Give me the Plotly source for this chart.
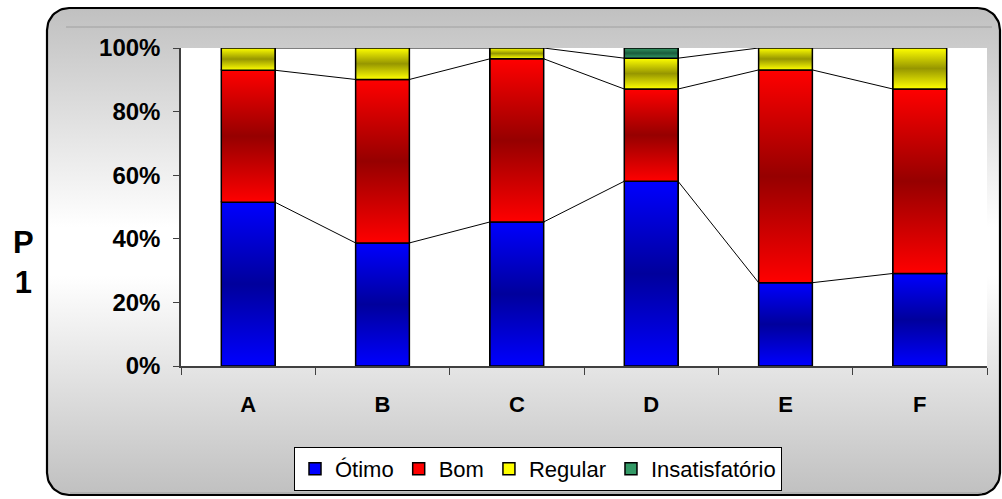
import numpy as np
import plotly.graph_objects as go

# ---------------- data ----------------
categories = ["A", "B", "C", "D", "E", "F"]
otimo = [51.5, 38.7, 45.3, 58.1, 26.2, 29.1]
bom = [41.5, 51.4, 51.3, 29.0, 66.9, 58.0]
regular = [7.0, 9.9, 3.4, 9.7, 6.9, 12.9]
insatisfatorio = [0.0, 0.0, 0.0, 3.2, 0.0, 0.0]
series_names = ["Ótimo", "Bom", "Regular", "Insatisfatório"]
y_ticks = [0, 20, 40, 60, 80, 100]
y_tick_labels = ["0%", "20%", "40%", "60%", "80%", "100%"]
axis_title = "P<br>1"

# ---------------- styles ----------------
edge_colors = ["#0000ff", "#ff0000", "#ffff00", "#339966"]
center_colors = ["#00009c", "#960000", "#969600", "#1a5c3c"]
BAR_W = 0.4
FONT = "Liberation Sans, Arial, sans-serif"
W, H = 1002, 499
PX0, PX1, PY0, PY1 = 181, 987, 48, 366  # plot area in pixels (from top-left)

series_vals = [otimo, bom, regular, insatisfatorio]
n = len(categories)

fig = go.Figure()

# ---------------- chart frame (rounded rect with vertical gradient) ----------------
fx0, fx1 = 47, 1000
fyb, fyt = H - 495, H - 8
r = 22
def arc(cx, cy, a0, a1):
    t = np.linspace(a0, a1, 16)
    return list(cx + r * np.cos(t)), list(cy + r * np.sin(t))
xs, ys = [], []
for cx, cy, a0, a1 in [(fx1 - r, fyt - r, np.pi / 2, 0),
                       (fx1 - r, fyb + r, 0, -np.pi / 2),
                       (fx0 + r, fyb + r, -np.pi / 2, -np.pi),
                       (fx0 + r, fyt - r, np.pi, np.pi / 2)]:
    ax_, ay_ = arc(cx, cy, a0, a1)
    xs += ax_
    ys += ay_
xs.append(xs[0])
ys.append(ys[0])
fig.add_trace(go.Scatter(
    x=xs, y=ys, mode="lines", fill="toself",
    fillgradient=dict(type="vertical", start=fyb, stop=fyt,
                      colorscale=[[0, "#c0c0c0"], [0.45, "#ffffff"], [0.55, "#ffffff"], [1, "#c0c0c0"]]),
    line=dict(color="black", width=2.2), hoverinfo="skip", showlegend=False,
    xaxis="x", yaxis="y"))
# inner shadow lines of the frame
fig.add_trace(go.Scatter(
    x=[66, 992, None, 70, 982], y=[H - 27, H - 27, None, H - 493, H - 493], mode="lines",
    line=dict(color="#a0a0a0", width=1), hoverinfo="skip", showlegend=False,
    xaxis="x", yaxis="y"))

# ---------------- stacked bars ----------------
for name, vals, col in zip(series_names, series_vals, edge_colors):
    fig.add_trace(go.Bar(
        x=categories, y=vals, name=name, width=BAR_W,
        marker=dict(color=col, line=dict(color="black", width=1.5)),
        xaxis="x2", yaxis="y2"))

# cumulative levels
cum = np.cumsum(np.array(series_vals), axis=0)
bases = np.vstack([np.zeros(n), cum[:-1]])

# ---------------- series lines ----------------
for k in range(3):
    lx, ly = [], []
    for i in range(n - 1):
        lx += [i + BAR_W / 2, i + 1 - BAR_W / 2, None]
        ly += [cum[k][i], cum[k][i + 1], None]
    fig.add_trace(go.Scatter(x=lx, y=ly, mode="lines", line=dict(color="black", width=1),
                             hoverinfo="skip", showlegend=False, xaxis="x3", yaxis="y2"))

# ---------------- gradient overlays on the bar segments ----------------
for k, vals in enumerate(series_vals):
    for i in range(n):
        if vals[i] <= 0:
            continue
        b, t = bases[k][i], cum[k][i]
        fig.add_trace(go.Scatter(
            x=[i - BAR_W / 2, i + BAR_W / 2, i + BAR_W / 2, i - BAR_W / 2, i - BAR_W / 2],
            y=[b, b, t, t, b], mode="lines", fill="toself",
            fillgradient=dict(type="vertical",
                              colorscale=[[0, edge_colors[k]], [0.5, center_colors[k]], [1, edge_colors[k]]]),
            line=dict(color="black", width=1.5), hoverinfo="skip", showlegend=False,
            xaxis="x3", yaxis="y2"))

# plot-area border (top/right gray)
fig.add_shape(type="rect", xref="x2 domain", yref="y2 domain", x0=0, x1=1, y0=0, y1=1,
              line=dict(color="#808080", width=1), layer="below")

fig.add_annotation(text=axis_title, xref="paper", yref="paper", x=23 / W, y=(H - 262) / H,
                   xanchor="center", yanchor="middle", showarrow=False,
                   font=dict(family=FONT, size=31, color="black", weight="bold"))

fig.update_layout(
    template="none",
    width=W, height=H, margin=dict(l=0, r=0, t=0, b=0, pad=0, autoexpand=False),
    paper_bgcolor="white", plot_bgcolor="white", barmode="stack",
    font=dict(family=FONT, color="black"),
    xaxis=dict(domain=[0, 1], range=[0, W], visible=False),
    yaxis=dict(domain=[0, 1], range=[0, H], visible=False),
    xaxis2=dict(domain=[PX0 / W, PX1 / W], anchor="y2", type="category", range=[-0.5, n - 0.5],
                tickson="boundaries", ticks="outside", ticklen=7, tickcolor="#404040",
                showline=True, linecolor="#404040", linewidth=1.5, showgrid=False, automargin=False,
                ticklabelstandoff=18,
                tickfont=dict(family=FONT, size=22, color="black", weight="bold")),
    xaxis3=dict(overlaying="x2", anchor="y2", range=[-0.5, n - 0.5], visible=False),
    yaxis2=dict(domain=[(H - PY1) / H, (H - PY0) / H], anchor="x2", range=[0, 100],
                tickmode="array", tickvals=y_ticks, ticktext=y_tick_labels,
                ticks="outside", ticklen=6, tickcolor="#404040", automargin=False,
                showline=True, linecolor="#404040", linewidth=1.5, showgrid=False, zeroline=False,
                ticklabelstandoff=8,
                tickfont=dict(family=FONT, size=24, color="black", weight="bold")),
    legend=dict(orientation="h", x=538 / W, xanchor="center", y=(H - 447) / H, yanchor="top",
                bgcolor="white", bordercolor="black", borderwidth=1,
                font=dict(family=FONT, size=22, color="black"), traceorder="normal"),
)

fig.write_html("out.html", config={"displayModeBar": False},
               post_script="document.body.style.margin='0';")
